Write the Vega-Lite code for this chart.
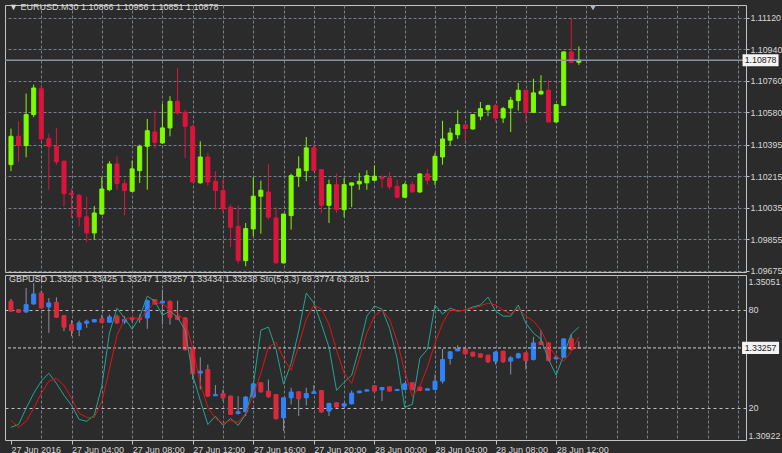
{
 "$schema": "https://vega.github.io/schema/vega-lite/v6.json",
 "background": "#2b2b2b",
 "padding": {"left": 3, "top": 2, "right": 0, "bottom": 0},
 "spacing": 3,
 "bounds": "flush",
 "config": {
  "view": {"stroke": "#c4c4c4", "strokeWidth": 1},
  "axis": {"labelFont": "Liberation Sans", "labelFontSize": 9, "labelColor": "#d8d8d8", "gridColor": "#76808c", "gridDash": [3, 2], "gridWidth": 1, "domain": false, "tickColor": "#c4c4c4", "tickSize": 3, "labelOverlap": false, "labelBound": false, "tickCount": 60, "title": null},
  "title": {"font": "Liberation Sans", "fontSize": 9, "fontWeight": "normal", "color": "#d8d8d8", "anchor": "start", "frame": "group", "baseline": "middle"}
 },
 "datasets": {
  "eur": [
   {"t":"2016-06-27T00:00Z","o":1.10281,"h":1.10487,"l":1.10244,"c":1.10443},
   {"t":"2016-06-27T00:30Z","o":1.10443,"h":1.10529,"l":1.10297,"c":1.10390},
   {"t":"2016-06-27T01:00Z","o":1.10390,"h":1.10687,"l":1.10323,"c":1.10567},
   {"t":"2016-06-27T01:30Z","o":1.10567,"h":1.10738,"l":1.10552,"c":1.10719},
   {"t":"2016-06-27T02:00Z","o":1.10715,"h":1.10738,"l":1.10418,"c":1.10428},
   {"t":"2016-06-27T02:30Z","o":1.10430,"h":1.10458,"l":1.10138,"c":1.10386},
   {"t":"2016-06-27T03:00Z","o":1.10386,"h":1.10491,"l":1.10281,"c":1.10297},
   {"t":"2016-06-27T03:30Z","o":1.10301,"h":1.10304,"l":1.10040,"c":1.10116},
   {"t":"2016-06-27T04:00Z","o":1.10118,"h":1.10144,"l":1.09977,"c":1.10110},
   {"t":"2016-06-27T04:30Z","o":1.10106,"h":1.10114,"l":1.09929,"c":1.09983},
   {"t":"2016-06-27T05:00Z","o":1.09983,"h":1.10097,"l":1.09838,"c":1.09891},
   {"t":"2016-06-27T05:30Z","o":1.09891,"h":1.10044,"l":1.09853,"c":1.10005},
   {"t":"2016-06-27T06:00Z","o":1.09999,"h":1.10209,"l":1.09995,"c":1.10142},
   {"t":"2016-06-27T06:30Z","o":1.10138,"h":1.10301,"l":1.10129,"c":1.10285},
   {"t":"2016-06-27T07:00Z","o":1.10285,"h":1.10329,"l":1.10138,"c":1.10173},
   {"t":"2016-06-27T07:30Z","o":1.10173,"h":1.10196,"l":1.09990,"c":1.10133},
   {"t":"2016-06-27T08:00Z","o":1.10129,"h":1.10304,"l":1.10125,"c":1.10257},
   {"t":"2016-06-27T08:30Z","o":1.10247,"h":1.10395,"l":1.10177,"c":1.10386},
   {"t":"2016-06-27T09:00Z","o":1.10386,"h":1.10542,"l":1.10138,"c":1.10475},
   {"t":"2016-06-27T09:30Z","o":1.10468,"h":1.10590,"l":1.10373,"c":1.10409},
   {"t":"2016-06-27T10:00Z","o":1.10405,"h":1.10630,"l":1.10400,"c":1.10491},
   {"t":"2016-06-27T10:30Z","o":1.10491,"h":1.10672,"l":1.10443,"c":1.10643},
   {"t":"2016-06-27T11:00Z","o":1.10643,"h":1.10833,"l":1.10567,"c":1.10576},
   {"t":"2016-06-27T11:30Z","o":1.10580,"h":1.10595,"l":1.10319,"c":1.10500},
   {"t":"2016-06-27T12:00Z","o":1.10500,"h":1.10510,"l":1.10178,"c":1.10182},
   {"t":"2016-06-27T12:30Z","o":1.10177,"h":1.10415,"l":1.10173,"c":1.10325},
   {"t":"2016-06-27T13:00Z","o":1.10325,"h":1.10348,"l":1.10161,"c":1.10182},
   {"t":"2016-06-27T13:30Z","o":1.10186,"h":1.10244,"l":1.10024,"c":1.10133},
   {"t":"2016-06-27T14:00Z","o":1.10133,"h":1.10200,"l":1.10005,"c":1.10028},
   {"t":"2016-06-27T14:30Z","o":1.10038,"h":1.10053,"l":1.09810,"c":1.09924},
   {"t":"2016-06-27T15:00Z","o":1.09929,"h":1.10047,"l":1.09716,"c":1.09733},
   {"t":"2016-06-27T15:30Z","o":1.09733,"h":1.09948,"l":1.09701,"c":1.09916},
   {"t":"2016-06-27T16:00Z","o":1.09914,"h":1.10209,"l":1.09872,"c":1.10101},
   {"t":"2016-06-27T16:30Z","o":1.10101,"h":1.10190,"l":1.09887,"c":1.10135},
   {"t":"2016-06-27T17:00Z","o":1.10125,"h":1.10285,"l":1.09967,"c":1.09981},
   {"t":"2016-06-27T17:30Z","o":1.09977,"h":1.10038,"l":1.09716,"c":1.09720},
   {"t":"2016-06-27T18:00Z","o":1.09720,"h":1.10000,"l":1.09716,"c":1.09999},
   {"t":"2016-06-27T18:30Z","o":1.09990,"h":1.10230,"l":1.09910,"c":1.10218},
   {"t":"2016-06-27T19:00Z","o":1.10215,"h":1.10329,"l":1.10154,"c":1.10257},
   {"t":"2016-06-27T19:30Z","o":1.10247,"h":1.10439,"l":1.10186,"c":1.10377},
   {"t":"2016-06-27T20:00Z","o":1.10377,"h":1.10401,"l":1.10245,"c":1.10247},
   {"t":"2016-06-27T20:30Z","o":1.10253,"h":1.10255,"l":1.10005,"c":1.10049},
   {"t":"2016-06-27T21:00Z","o":1.10049,"h":1.10196,"l":1.09948,"c":1.10167},
   {"t":"2016-06-27T21:30Z","o":1.10167,"h":1.10230,"l":1.10005,"c":1.10024},
   {"t":"2016-06-27T22:00Z","o":1.10024,"h":1.10205,"l":1.09981,"c":1.10167},
   {"t":"2016-06-27T22:30Z","o":1.10164,"h":1.10178,"l":1.10038,"c":1.10177},
   {"t":"2016-06-27T23:00Z","o":1.10171,"h":1.10234,"l":1.10138,"c":1.10186},
   {"t":"2016-06-27T23:30Z","o":1.10177,"h":1.10249,"l":1.10138,"c":1.10218},
   {"t":"2016-06-28T00:00Z","o":1.10192,"h":1.10276,"l":1.10190,"c":1.10215},
   {"t":"2016-06-28T00:30Z","o":1.10209,"h":1.10218,"l":1.10148,"c":1.10201},
   {"t":"2016-06-28T01:00Z","o":1.10205,"h":1.10238,"l":1.10138,"c":1.10154},
   {"t":"2016-06-28T01:30Z","o":1.10158,"h":1.10196,"l":1.10091,"c":1.10095},
   {"t":"2016-06-28T02:00Z","o":1.10095,"h":1.10177,"l":1.10091,"c":1.10167},
   {"t":"2016-06-28T02:30Z","o":1.10167,"h":1.10186,"l":1.10124,"c":1.10125},
   {"t":"2016-06-28T03:00Z","o":1.10125,"h":1.10234,"l":1.10120,"c":1.10228},
   {"t":"2016-06-28T03:30Z","o":1.10228,"h":1.10257,"l":1.10167,"c":1.10192},
   {"t":"2016-06-28T04:00Z","o":1.10192,"h":1.10348,"l":1.10164,"c":1.10329},
   {"t":"2016-06-28T04:30Z","o":1.10325,"h":1.10532,"l":1.10281,"c":1.10428},
   {"t":"2016-06-28T05:00Z","o":1.10421,"h":1.10491,"l":1.10390,"c":1.10462},
   {"t":"2016-06-28T05:30Z","o":1.10452,"h":1.10592,"l":1.10428,"c":1.10510},
   {"t":"2016-06-28T06:00Z","o":1.10508,"h":1.10508,"l":1.10421,"c":1.10487},
   {"t":"2016-06-28T06:30Z","o":1.10485,"h":1.10567,"l":1.10481,"c":1.10567},
   {"t":"2016-06-28T07:00Z","o":1.10558,"h":1.10639,"l":1.10535,"c":1.10601},
   {"t":"2016-06-28T07:30Z","o":1.10595,"h":1.10624,"l":1.10558,"c":1.10618},
   {"t":"2016-06-28T08:00Z","o":1.10618,"h":1.10628,"l":1.10523,"c":1.10548},
   {"t":"2016-06-28T08:30Z","o":1.10548,"h":1.10611,"l":1.10519,"c":1.10601},
   {"t":"2016-06-28T09:00Z","o":1.10605,"h":1.10668,"l":1.10468,"c":1.10649},
   {"t":"2016-06-28T09:30Z","o":1.10647,"h":1.10748,"l":1.10590,"c":1.10706},
   {"t":"2016-06-28T10:00Z","o":1.10706,"h":1.10708,"l":1.10529,"c":1.10580},
   {"t":"2016-06-28T10:30Z","o":1.10580,"h":1.10772,"l":1.10576,"c":1.10691},
   {"t":"2016-06-28T11:00Z","o":1.10685,"h":1.10792,"l":1.10681,"c":1.10700},
   {"t":"2016-06-28T11:30Z","o":1.10706,"h":1.10763,"l":1.10522,"c":1.10525},
   {"t":"2016-06-28T12:00Z","o":1.10525,"h":1.10625,"l":1.10520,"c":1.10624},
   {"t":"2016-06-28T12:30Z","o":1.10620,"h":1.10929,"l":1.10618,"c":1.10925},
   {"t":"2016-06-28T13:00Z","o":1.10925,"h":1.11115,"l":1.10860,"c":1.10866},
   {"t":"2016-06-28T13:30Z","o":1.10866,"h":1.10956,"l":1.10851,"c":1.10878}
  ],
  "gbp": [
   {"t":"2016-06-27T00:00Z","o":1.34441,"h":1.34499,"l":1.34170,"c":1.34188,"k":7.9,"d":12.2},
   {"t":"2016-06-27T00:30Z","o":1.34228,"h":1.34240,"l":1.34150,"c":1.34163,"k":9.7,"d":7.9},
   {"t":"2016-06-27T01:00Z","o":1.34170,"h":1.34778,"l":1.34145,"c":1.34355,"k":19.6,"d":11.6},
   {"t":"2016-06-27T01:30Z","o":1.34373,"h":1.34904,"l":1.34355,"c":1.34626,"k":28.8,"d":19.6},
   {"t":"2016-06-27T02:00Z","o":1.34651,"h":1.34702,"l":1.34260,"c":1.34271,"k":36.2,"d":28.8},
   {"t":"2016-06-27T02:30Z","o":1.34297,"h":1.34525,"l":1.33638,"c":1.34398,"k":41.1,"d":36.2},
   {"t":"2016-06-27T03:00Z","o":1.34416,"h":1.34542,"l":1.34018,"c":1.34036,"k":34.9,"d":38.0},
   {"t":"2016-06-27T03:30Z","o":1.34077,"h":1.34085,"l":1.33682,"c":1.33783,"k":27.6,"d":33.7},
   {"t":"2016-06-27T04:00Z","o":1.33849,"h":1.33960,"l":1.33555,"c":1.33697,"k":21.4,"d":25.7},
   {"t":"2016-06-27T04:30Z","o":1.33722,"h":1.33950,"l":1.33555,"c":1.33892,"k":12.8,"d":16.5},
   {"t":"2016-06-27T05:00Z","o":1.33884,"h":1.33975,"l":1.33765,"c":1.33935,"k":11.6,"d":14.0},
   {"t":"2016-06-27T05:30Z","o":1.33917,"h":1.33980,"l":1.33910,"c":1.33975,"k":15.3,"d":14.0},
   {"t":"2016-06-27T06:00Z","o":1.34001,"h":1.34102,"l":1.33892,"c":1.33899,"k":33.1,"d":23.9},
   {"t":"2016-06-27T06:30Z","o":1.33909,"h":1.34102,"l":1.33892,"c":1.34044,"k":65.7,"d":43.5},
   {"t":"2016-06-27T07:00Z","o":1.34061,"h":1.34102,"l":1.33866,"c":1.33892,"k":81.0,"d":64.4},
   {"t":"2016-06-27T07:30Z","o":1.33917,"h":1.34061,"l":1.33866,"c":1.33975,"k":74.9,"d":74.3},
   {"t":"2016-06-27T08:00Z","o":1.34018,"h":1.34025,"l":1.33917,"c":1.33975,"k":68.1,"d":75.5},
   {"t":"2016-06-27T08:30Z","o":1.34018,"h":1.34102,"l":1.33892,"c":1.33975,"k":75.5,"d":74.3},
   {"t":"2016-06-27T09:00Z","o":1.34018,"h":1.34482,"l":1.33740,"c":1.34456,"k":88.4,"d":79.2},
   {"t":"2016-06-27T09:30Z","o":1.34482,"h":1.34490,"l":1.34360,"c":1.34373,"k":85.3,"d":84.7},
   {"t":"2016-06-27T10:00Z","o":1.34398,"h":1.34735,"l":1.33849,"c":1.34441,"k":76.7,"d":83.5},
   {"t":"2016-06-27T10:30Z","o":1.34441,"h":1.34456,"l":1.33849,"c":1.34036,"k":79.2,"d":80.4},
   {"t":"2016-06-27T11:00Z","o":1.34061,"h":1.34456,"l":1.33970,"c":1.33975,"k":75.5,"d":78.0},
   {"t":"2016-06-27T11:30Z","o":1.34018,"h":1.34036,"l":1.33190,"c":1.33216,"k":67.5,"d":73.1},
   {"t":"2016-06-27T12:00Z","o":1.33259,"h":1.33270,"l":1.32456,"c":1.32601,"k":39.9,"d":56.5},
   {"t":"2016-06-27T12:30Z","o":1.32618,"h":1.33023,"l":1.32203,"c":1.32669,"k":24.5,"d":34.9},
   {"t":"2016-06-27T13:00Z","o":1.32709,"h":1.32836,"l":1.32018,"c":1.32036,"k":9.7,"d":20.2},
   {"t":"2016-06-27T13:30Z","o":1.32044,"h":1.32314,"l":1.32036,"c":1.32077,"k":14.7,"d":13.4},
   {"t":"2016-06-27T14:00Z","o":1.32102,"h":1.32203,"l":1.31909,"c":1.31993,"k":9.1,"d":10.4},
   {"t":"2016-06-27T14:30Z","o":1.32036,"h":1.32050,"l":1.31560,"c":1.31570,"k":13.4,"d":12.2},
   {"t":"2016-06-27T15:00Z","o":1.31595,"h":1.32036,"l":1.31570,"c":1.31638,"k":9.1,"d":11.0},
   {"t":"2016-06-27T15:30Z","o":1.31638,"h":1.32036,"l":1.31530,"c":1.32011,"k":15.9,"d":16.5},
   {"t":"2016-06-27T16:00Z","o":1.32011,"h":1.32373,"l":1.31993,"c":1.32347,"k":33.7,"d":27.6},
   {"t":"2016-06-27T16:30Z","o":1.32373,"h":1.32380,"l":1.32120,"c":1.32145,"k":67.5,"d":41.1},
   {"t":"2016-06-27T17:00Z","o":1.32162,"h":1.32456,"l":1.31993,"c":1.32018,"k":69.4,"d":57.1},
   {"t":"2016-06-27T17:30Z","o":1.32077,"h":1.32080,"l":1.31444,"c":1.31461,"k":55.8,"d":60.1},
   {"t":"2016-06-27T18:00Z","o":1.31487,"h":1.32000,"l":1.31150,"c":1.31993,"k":34.3,"d":50.3},
   {"t":"2016-06-27T18:30Z","o":1.31993,"h":1.32246,"l":1.31823,"c":1.32137,"k":47.2,"d":42.9},
   {"t":"2016-06-27T19:00Z","o":1.32145,"h":1.32150,"l":1.31530,"c":1.31968,"k":66.9,"d":58.3},
   {"t":"2016-06-27T19:30Z","o":1.31993,"h":1.32246,"l":1.31798,"c":1.32102,"k":90.3,"d":74.3},
   {"t":"2016-06-27T20:00Z","o":1.32102,"h":1.32314,"l":1.32095,"c":1.32145,"k":84.1,"d":82.9},
   {"t":"2016-06-27T20:30Z","o":1.32178,"h":1.32185,"l":1.31613,"c":1.31631,"k":71.2,"d":80.4},
   {"t":"2016-06-27T21:00Z","o":1.31656,"h":1.31866,"l":1.31530,"c":1.31849,"k":57.1,"d":71.2},
   {"t":"2016-06-27T21:30Z","o":1.31866,"h":1.31870,"l":1.31740,"c":1.31757,"k":30.6,"d":55.2},
   {"t":"2016-06-27T22:00Z","o":1.31782,"h":1.31866,"l":1.31740,"c":1.31840,"k":35.6,"d":41.1},
   {"t":"2016-06-27T22:30Z","o":1.31840,"h":1.32178,"l":1.31823,"c":1.32112,"k":39.9,"d":34.9},
   {"t":"2016-06-27T23:00Z","o":1.32119,"h":1.32170,"l":1.32110,"c":1.32162,"k":56.5,"d":49.7},
   {"t":"2016-06-27T23:30Z","o":1.32162,"h":1.32200,"l":1.32155,"c":1.32195,"k":76.1,"d":65.7},
   {"t":"2016-06-28T00:00Z","o":1.32297,"h":1.32300,"l":1.32145,"c":1.32162,"k":82.3,"d":76.1},
   {"t":"2016-06-28T00:30Z","o":1.32195,"h":1.32263,"l":1.31909,"c":1.32254,"k":80.4,"d":79.8},
   {"t":"2016-06-28T01:00Z","o":1.32271,"h":1.32280,"l":1.32155,"c":1.32162,"k":68.7,"d":74.3},
   {"t":"2016-06-28T01:30Z","o":1.32178,"h":1.32220,"l":1.32162,"c":1.32203,"k":50.3,"d":60.8},
   {"t":"2016-06-28T02:00Z","o":1.32203,"h":1.32373,"l":1.32186,"c":1.32347,"k":20.2,"d":42.3},
   {"t":"2016-06-28T02:30Z","o":1.32373,"h":1.32380,"l":1.32178,"c":1.32203,"k":22.0,"d":26.9},
   {"t":"2016-06-28T03:00Z","o":1.32263,"h":1.32270,"l":1.32162,"c":1.32178,"k":50.3,"d":33.1},
   {"t":"2016-06-28T03:30Z","o":1.32186,"h":1.32230,"l":1.32180,"c":1.32220,"k":55.8,"d":44.8},
   {"t":"2016-06-28T04:00Z","o":1.32203,"h":1.32583,"l":1.32186,"c":1.32416,"k":82.9,"d":59.5},
   {"t":"2016-06-28T04:30Z","o":1.32416,"h":1.33233,"l":1.32355,"c":1.32963,"k":77.4,"d":71.8},
   {"t":"2016-06-28T05:00Z","o":1.32988,"h":1.33175,"l":1.32836,"c":1.33158,"k":81.0,"d":79.8},
   {"t":"2016-06-28T05:30Z","o":1.33183,"h":1.33327,"l":1.33175,"c":1.33233,"k":79.2,"d":79.2},
   {"t":"2016-06-28T06:00Z","o":1.33233,"h":1.33240,"l":1.33090,"c":1.33107,"k":79.8,"d":79.8},
   {"t":"2016-06-28T06:30Z","o":1.33150,"h":1.33160,"l":1.33040,"c":1.33049,"k":81.7,"d":81.0},
   {"t":"2016-06-28T07:00Z","o":1.33107,"h":1.33115,"l":1.33015,"c":1.33023,"k":82.9,"d":82.3},
   {"t":"2016-06-28T07:30Z","o":1.33074,"h":1.33080,"l":1.32879,"c":1.32904,"k":87.8,"d":84.1},
   {"t":"2016-06-28T08:00Z","o":1.32922,"h":1.33175,"l":1.32836,"c":1.33150,"k":79.2,"d":82.9},
   {"t":"2016-06-28T08:30Z","o":1.33175,"h":1.33180,"l":1.32879,"c":1.32904,"k":76.1,"d":79.8},
   {"t":"2016-06-28T09:00Z","o":1.32922,"h":1.33049,"l":1.32583,"c":1.33006,"k":76.1,"d":77.4},
   {"t":"2016-06-28T09:30Z","o":1.33006,"h":1.33132,"l":1.32990,"c":1.33107,"k":82.9,"d":81.0},
   {"t":"2016-06-28T10:00Z","o":1.33132,"h":1.33140,"l":1.32709,"c":1.32937,"k":71.8,"d":76.1},
   {"t":"2016-06-28T10:30Z","o":1.32963,"h":1.33537,"l":1.32937,"c":1.33385,"k":65.7,"d":73.1},
   {"t":"2016-06-28T11:00Z","o":1.33411,"h":1.33707,"l":1.33327,"c":1.33342,"k":62.0,"d":67.5},
   {"t":"2016-06-28T11:30Z","o":1.33385,"h":1.33400,"l":1.32922,"c":1.32937,"k":49.7,"d":57.7},
   {"t":"2016-06-28T12:00Z","o":1.32980,"h":1.33074,"l":1.32963,"c":1.33023,"k":39.9,"d":51.5},
   {"t":"2016-06-28T12:30Z","o":1.33023,"h":1.33495,"l":1.33006,"c":1.33487,"k":52.2,"d":48.5},
   {"t":"2016-06-28T13:00Z","o":1.33494,"h":1.33595,"l":1.33190,"c":1.33216,"k":65.1,"d":54.6},
   {"t":"2016-06-28T13:30Z","o":1.33263,"h":1.33425,"l":1.33247,"c":1.33257,"k":69.3774,"d":63.2813}
  ]
 },
 "vconcat": [
  {
   "width": 741,
   "height": 267,
   "title": {"text": "▼ EURUSD.M30  1.10866 1.10956 1.10851 1.10878", "offset": -7, "dx": 4},
   "layer": [
    {
     "data": {"name": "eur"},
     "mark": {"type": "rule", "strokeWidth": 1},
     "encoding": {
      "x": {"field": "t", "type": "temporal", "scale": {"type": "utc", "domain": [1466985366000, 1467159148800], "nice": false},
            "axis": {"values": [1466992800000,1467000000000,1467007200000,1467014400000,1467021600000,1467028800000,1467036000000,1467043200000,1467050400000,1467057600000,1467064800000,1467072000000,1467079200000,1467086400000,1467093600000,1467100800000,1467108000000,1467115200000,1467122400000,1467129600000,1467136800000,1467144000000,1467151200000,1467158400000], "labels": false, "ticks": false, "grid": true, "tickCount": 60}},
      "y": {"field": "l", "type": "quantitative", "scale": {"domain": [1.09668, 1.11193], "nice": false, "zero": false},
            "axis": {"orient": "right", "values": [1.09675,1.09855,1.10035,1.10215,1.10395,1.10580,1.10760,1.10940,1.11120], "format": ".5f", "labelPadding": 1, "tickSize": 3, "grid": true, "labelOverlap": false, "tickCount": 60, "labelFontSize": 8.8}},
      "y2": {"field": "h"},
      "color": {"condition": {"test": "datum.c >= datum.o", "value": "#7cfc00"}, "value": "#dc143c"}
     }
    },
    {
     "data": {"name": "eur"},
     "mark": {"type": "bar", "width": 4, "strokeWidth": 1},
     "encoding": {
      "x": {"field": "t", "type": "temporal"},
      "y": {"field": "o", "type": "quantitative"},
      "y2": {"field": "c"},
      "color": {"condition": {"test": "datum.c >= datum.o", "value": "#7cfc00"}, "value": "#dc143c"},
      "stroke": {"condition": {"test": "datum.c >= datum.o", "value": "#7cfc00"}, "value": "#dc143c"}
     }
    },
    {
     "data": {"values": [{"p": 1.10878}]},
     "mark": {"type": "rule", "color": "#8a939d", "strokeWidth": 1.5},
     "encoding": {"y": {"field": "p", "type": "quantitative"}}
    },
    {
     "data": {"values": [{"p": 1.10878}]},
     "mark": {"type": "point", "shape": "M-1,-0.333H1V0.333H-1Z", "size": 1296, "filled": true, "color": "#f4f4f4", "opacity": 1, "strokeWidth": 0},
     "encoding": {
      "x": {"datum": {"year": 2016, "month": 6, "date": 29, "hours": 1, "minutes": 30, "utc": true}, "type": "temporal"},
      "y": {"field": "p", "type": "quantitative"}
     }
    },
    {
     "data": {"values": [{"p": 1.10878}]},
     "mark": {"type": "text", "font": "Liberation Sans", "fontSize": 8.8, "color": "#1a1a1a", "align": "center", "baseline": "middle"},
     "encoding": {
      "x": {"datum": {"year": 2016, "month": 6, "date": 29, "hours": 1, "minutes": 30, "utc": true}, "type": "temporal"},
      "y": {"field": "p", "type": "quantitative"},
      "text": {"field": "p", "type": "quantitative", "format": ".5f"}
     }
    },
    {
     "data": {"values": [{}]},
     "mark": {"type": "point", "shape": "triangle-down", "size": 40, "filled": true, "color": "#aeb8c4", "opacity": 1},
     "encoding": {
      "x": {"datum": {"year": 2016, "month": 6, "date": 28, "hours": 14, "minutes": 26, "utc": true}, "type": "temporal"},
      "y": {"datum": 1.11178, "type": "quantitative"}
     }
    }
   ]
  },
  {
   "width": 741,
   "height": 165,
   "title": {"text": "GBPUSD 1.33263 1.33425 1.33247 1.33257 1.33434 1.33238  Sto(5,3,3) 69.3774 63.2813", "offset": -9, "dx": 4},
   "resolve": {"scale": {"y": "independent"}, "axis": {"y": "independent"}},
   "layer": [
    {
     "layer": [
      {
       "data": {"name": "gbp"},
       "mark": {"type": "rule", "strokeWidth": 1, "color": "#8791a0"},
       "encoding": {
        "x": {"field": "t", "type": "temporal", "scale": {"type": "utc", "domain": [1466985366000, 1467159148800], "nice": false},
              "axis": {"values": [1466985600000,1466992800000,1467000000000,1467007200000,1467014400000,1467021600000,1467028800000,1467036000000,1467043200000,1467050400000,1467057600000,1467064800000,1467072000000,1467079200000,1467086400000,1467093600000,1467100800000,1467108000000,1467115200000,1467122400000,1467129600000,1467136800000,1467144000000,1467151200000,1467158400000],
                       "grid": true, "tickSize": 4, "labelPadding": 1, "labelAlign": "left", "labelFlush": false, "labelBaseline": "top", "labelOverlap": false, "tickCount": 60,
                       "gridOpacity": {"condition": {"test": "datum.value < 1466990000000", "value": 0}, "value": 1},
                       "tickOpacity": {"condition": {"test": "utchours(datum.value) % 4 == 0 && datum.value <= 1467115200000", "value": 1}, "value": 0},
                       "labelExpr": "(utchours(datum.value) % 4 != 0 || datum.value > 1467115200000) ? '' : (datum.value < 1466990000000 ? '27 Jun 2016' : utcFormat(datum.value, '%d %b %H:%M'))"}},
        "y": {"field": "l", "type": "quantitative", "scale": {"domain": [1.30922, 1.35107], "nice": false, "zero": false},
              "axis": {"orient": "right", "values": [1.30922, 1.35051], "format": ".5f", "grid": false, "ticks": false, "labelPadding": 2, "labelOverlap": false, "labelFontSize": 8.8,
                       "labelBaseline": {"condition": {"test": "datum.value > 1.33", "value": "top"}, "value": "bottom"}}},
        "y2": {"field": "h"}
       }
      },
      {
       "data": {"name": "gbp"},
       "mark": {"type": "bar", "width": 4, "strokeWidth": 1},
       "encoding": {
        "x": {"field": "t", "type": "temporal"},
        "y": {"field": "o", "type": "quantitative"},
        "y2": {"field": "c"},
        "color": {"condition": {"test": "datum.c > datum.o", "value": "#3282fa"}, "value": "#dc2a3c"},
        "stroke": {"condition": {"test": "datum.c > datum.o", "value": "#3282fa"}, "value": "#dc2a3c"}
       }
      },
      {
       "data": {"values": [{"p": 1.33257}]},
       "mark": {"type": "rule", "color": "#d0d0d0", "strokeWidth": 1, "strokeDash": [3, 2]},
       "encoding": {"y": {"field": "p", "type": "quantitative"}}
      },
      {
       "data": {"values": [{"p": 1.33257}]},
       "mark": {"type": "point", "shape": "M-1,-0.333H1V0.333H-1Z", "size": 1369, "filled": true, "color": "#f4f4f4", "opacity": 1, "strokeWidth": 0},
       "encoding": {
        "x": {"datum": {"year": 2016, "month": 6, "date": 29, "hours": 1, "minutes": 30, "utc": true}, "type": "temporal"},
        "y": {"field": "p", "type": "quantitative"}
       }
      },
      {
       "data": {"values": [{"p": 1.33257}]},
       "mark": {"type": "text", "font": "Liberation Sans", "fontSize": 8.8, "color": "#1a1a1a", "align": "center", "baseline": "middle"},
       "encoding": {
        "x": {"datum": {"year": 2016, "month": 6, "date": 29, "hours": 1, "minutes": 30, "utc": true}, "type": "temporal"},
        "y": {"field": "p", "type": "quantitative"},
        "text": {"field": "p", "type": "quantitative", "format": ".5f"}
       }
      }
     ]
    },
    {
     "layer": [
      {
       "data": {"name": "gbp"},
       "mark": {"type": "line", "strokeWidth": 1, "color": "#22a592"},
       "encoding": {
        "x": {"field": "t", "type": "temporal"},
        "y": {"field": "k", "type": "quantitative", "scale": {"domain": [0.16, 101.33], "nice": false, "zero": false},
              "axis": {"orient": "right", "values": [20, 80], "grid": true, "gridColor": "#c0c0c0", "gridDash": [3, 3], "ticks": false, "labelPadding": 2, "labelOverlap": false}}
       }
      },
      {
       "data": {"name": "gbp"},
       "mark": {"type": "line", "strokeWidth": 1, "color": "#e01414"},
       "encoding": {
        "x": {"field": "t", "type": "temporal"},
        "y": {"field": "d", "type": "quantitative"}
       }
      }
     ]
    }
   ]
  }
 ]
}
